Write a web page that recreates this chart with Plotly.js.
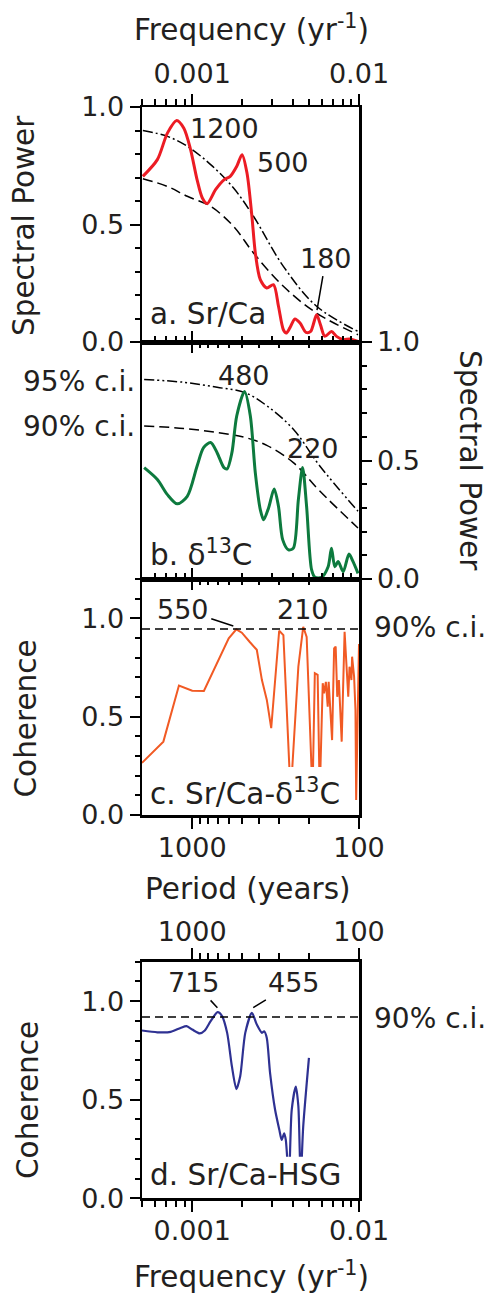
<!DOCTYPE html>
<html><head><meta charset="utf-8">
<script src="https://cdn.plot.ly/plotly-3.0.1.min.js"></script>
<style>html,body{margin:0;padding:0;background:#fff}#chart{width:489px;height:1294px}</style>
</head><body><div id="chart"></div>
<script>
// ---------- DATA ----------
// Panel a: Sr/Ca spectral power vs frequency (yr^-1)
const freqA = [0.000506,0.000618,0.00071,0.000807,0.000891,0.000977,0.00107,0.00115,0.00123,0.00138,0.00155,0.00169,0.00185,0.00199,0.00213,0.00228,0.00239,0.00256,0.0028,0.00307,0.00329,0.00352,0.00366,0.00385,0.00413,0.00443,0.00481,0.00513,0.00557,0.00587,0.00624,0.00684,0.00733,0.00804,0.00879,0.00986];
const powerA = [0.705,0.776,0.889,0.943,0.91,0.82,0.69,0.613,0.589,0.648,0.69,0.705,0.748,0.797,0.719,0.535,0.379,0.265,0.23,0.244,0.152,0.052,0.038,0.06,0.098,0.081,0.041,0.045,0.116,0.074,0.024,0.045,0.024,0.01,0.013,0.003];
const freqCIa = [0.000506,0.00071,0.000934,0.00129,0.00177,0.00233,0.00352,0.00557,0.00986];
const ci95a = [0.9,0.875,0.833,0.755,0.655,0.535,0.322,0.152,0.045];
const ci90a = [0.695,0.662,0.62,0.577,0.492,0.379,0.237,0.123,0.031];

// Panel b: d13C spectral power vs frequency
const freqB = [0.000515,0.000618,0.00071,0.000814,0.000934,0.00107,0.00117,0.00129,0.00141,0.00155,0.00162,0.00173,0.00185,0.00206,0.00223,0.00239,0.00256,0.00268,0.00287,0.0031,0.00329,0.00349,0.00378,0.00404,0.00433,0.00459,0.00485,0.0052,0.00545,0.00596,0.00653,0.00684,0.00716,0.0075,0.00804,0.00871,0.0092,0.00986];
const powerB = [0.47,0.42,0.356,0.317,0.349,0.477,0.554,0.576,0.533,0.47,0.465,0.533,0.689,0.791,0.689,0.448,0.293,0.25,0.30,0.38,0.307,0.165,0.123,0.13,0.335,0.47,0.307,0.038,0.007,0.007,0.052,0.13,0.052,0.074,0.031,0.105,0.074,0.024];
const freqCIb = [0.000515,0.000891,0.00141,0.00208,0.0028,0.00404,0.00582,0.00986];
const ci95b = [0.842,0.83,0.809,0.786,0.731,0.632,0.477,0.286];
const ci90b = [0.646,0.635,0.618,0.597,0.564,0.491,0.371,0.215];

// Panel c: Sr/Ca - d13C coherence vs period (years)
const periodC = [2000,1489,1201,1000,851,709,604,544,504,453,410,382,357,336,315,301,284,257,231,216,206,190,184,177,172,165,162,158,154,152,145,141,138,135,132,127,122,116,114,111,110,107,105,104,100];
const cohC = [0.265,0.373,0.658,0.632,0.631,0.771,0.898,0.944,0.927,0.881,0.84,0.686,0.585,0.442,0.754,0.937,0.915,0.1,0.754,0.957,0.906,0.1,0.721,0.713,0.1,0.67,0.619,0.677,0.551,0.677,0.381,0.847,0.856,0.601,0.686,0.373,0.932,0.601,0.754,0.686,0.805,0.703,0.534,0.076,0.87];
const ci90c = 0.946;

// Panel d: Sr/Ca - HSG coherence vs frequency
const freqD = [0.0005,0.000618,0.000743,0.000851,0.000925,0.001,0.00111,0.00119,0.00129,0.00142,0.00151,0.00162,0.00173,0.00184,0.00194,0.00208,0.00228,0.00244,0.00262,0.0027,0.0028,0.00293,0.00314,0.00333,0.00344,0.00356,0.00364,0.0038,0.00395,0.00418,0.00433,0.00447,0.00463,0.00501];
const cohD = [0.851,0.842,0.844,0.864,0.873,0.856,0.836,0.851,0.898,0.944,0.924,0.839,0.669,0.554,0.619,0.839,0.94,0.881,0.839,0.847,0.813,0.635,0.449,0.347,0.296,0.33,0.296,0.1,0.449,0.567,0.466,0.1,0.364,0.712];
const ci90d = 0.919;

// Peak labels and where their leader lines end
const peaksA = ['1200','500','180'];
const peaksB = ['480','220'];
const peaksC = ['550','210'];
const peaksD = ['715','455'];
const leadA180 = {f: 0.0056, v: 0.136};
const leadC550 = {p: 567, v: 0.961};
const leadD715 = {f: 0.001416, v: 0.967};
const leadD455 = {f: 0.002322, v: 0.967};

// Ticks
const freqMajor = [0.001, 0.01];
const freqMajorText = ['0.001', '0.01'];
const freqMinor = [0.0005,0.0006,0.0007,0.0008,0.0009,0.002,0.003,0.004,0.005,0.006,0.007,0.008,0.009];
const perMajor = [1000, 100];
const perMajorText = ['1000', '100'];
const perMinor = [900,800,700,600,500,400,300,200];
const powMajor = [0, 0.5, 1.0];
const powMajorText = ['0.0', '0.5', '1.0'];
const powMinor = [0.1,0.2,0.3,0.4,0.6,0.7,0.8,0.9];
const cohMinor = [0.1,0.2,0.3,0.4,0.6,0.7,0.8,0.9,1.1,1.2];

// ---------- LAYOUT HELPERS ----------
const W = 489, H = 1294, L = 142, R = 130;
const PW = W - L - R;
const px = x => (x - L) / PW;
const py = y => 1 - y / H;
const TXT = '#231f20';
const FAM = 'DejaVu Sans, Verdana, sans-serif';
const FONT = {family: FAM, size: 29.5, color: TXT};     // words
const NUMFONT = {family: FAM, size: 27, color: TXT};   // numbers
const CIFONT = {family: FAM, size: 28, color: TXT};    // c.i. labels
const LW = 2.5;
const freqRange = [Math.log10(0.0005), -2];
const perRange = [Math.log10(2000), 2];

function xax(kind, opts) {
  const isF = kind === 'f';
  const o = {
    type: 'log', autorange: false, range: isF ? freqRange : perRange,
    showgrid: false, zeroline: false, showline: true, linecolor: '#000', linewidth: LW,
    tickmode: 'array', tickvals: isF ? freqMajor : perMajor, ticktext: isF ? freqMajorText : perMajorText,
    ticklen: 11, tickwidth: 2, tickcolor: '#000', tickfont: NUMFONT,
    minor: {tickmode: 'array', tickvals: isF ? freqMinor : perMinor, ticklen: 6, tickwidth: 2, tickcolor: '#000', showgrid: false},
    fixedrange: true
  };
  Object.assign(o, opts);
  o.minor.ticks = o.ticks;
  return o;
}
function yax(dom, rng, minor, opts) {
  const o = {
    domain: dom, range: rng, autorange: false, showgrid: false, zeroline: false,
    showline: true, mirror: true, linecolor: '#000', linewidth: LW,
    tickmode: 'array', tickvals: powMajor, ticktext: powMajorText, ticks: 'outside',
    ticklen: 10, tickwidth: 2, tickcolor: '#000', tickfont: NUMFONT,
    minor: {tickmode: 'array', tickvals: minor, ticklen: 5, tickwidth: 2, tickcolor: '#000', ticks: 'outside', showgrid: false},
    fixedrange: true
  };
  return Object.assign(o, opts);
}

const domA = [py(342), py(107)];
const domB = [py(579), py(342)];
const domC = [py(815), py(579)];
const domD = [py(1198.3), py(961.7)];

// ---------- TRACES ----------
const blk = '#000';
const traces = [
  {x: freqCIa, y: ci95a, xaxis: 'x', yaxis: 'y', mode: 'lines', line: {color: blk, width: 1.5, dash: '10px,3px,2px,3px', shape: 'spline'}},
  {x: freqCIa, y: ci90a, xaxis: 'x', yaxis: 'y', mode: 'lines', line: {color: blk, width: 1.5, dash: '10px,5px', shape: 'spline'}},
  {x: freqA, y: powerA, xaxis: 'x', yaxis: 'y', mode: 'lines', line: {color: '#ec1c24', width: 3, shape: 'spline', smoothing: 0.8}},

  {x: freqCIb, y: ci95b, xaxis: 'x3', yaxis: 'y2', mode: 'lines', line: {color: blk, width: 1.5, dash: '10px,3px,2px,3px,2px,3px', shape: 'spline'}},
  {x: freqCIb, y: ci90b, xaxis: 'x3', yaxis: 'y2', mode: 'lines', line: {color: blk, width: 1.5, dash: '10px,5px', shape: 'spline'}},
  {x: freqB, y: powerB, xaxis: 'x3', yaxis: 'y2', mode: 'lines', line: {color: '#0d7a3e', width: 3, shape: 'spline', smoothing: 0.8}},

  {x: periodC, y: cohC, xaxis: 'x5', yaxis: 'y3', mode: 'lines', line: {color: '#f15a24', width: 2}},

  {x: freqD, y: cohD, xaxis: 'x7', yaxis: 'y4', mode: 'lines', line: {color: '#2e3192', width: 2.2, shape: 'spline', smoothing: 0.7}},

  // empty traces so that the secondary (top / inner) tick axes are drawn
  {x: [], y: [], xaxis: 'x2', yaxis: 'y', mode: 'lines', hoverinfo: 'skip'},
  {x: [], y: [], xaxis: 'x4', yaxis: 'y2', mode: 'lines', hoverinfo: 'skip'},
  {x: [], y: [], xaxis: 'x6', yaxis: 'y3', mode: 'lines', hoverinfo: 'skip'},
  {x: [], y: [], xaxis: 'x8', yaxis: 'y4', mode: 'lines', hoverinfo: 'skip'}
];

// ---------- ANNOTATIONS ----------
function lab(text, x, y, extra) {
  return Object.assign({text: text, xref: 'paper', yref: 'paper', x: px(x), y: py(y), showarrow: false,
    xanchor: 'center', yanchor: 'middle', font: FONT}, extra || {});
}
function num(text, x, y) { return lab(text, x, y, {font: NUMFONT}); }
function arr(text, xref, yref, xv, yv, ax, ay) {
  // log axes: annotation positions are given in log10 units
  return {text: text, xref: xref, yref: yref, x: Math.log10(xv), y: yv, ax: ax, ay: ay, showarrow: true,
    arrowhead: 0, arrowwidth: 1.5, arrowcolor: '#000', font: NUMFONT, standoff: 0, startstandoff: 1};
}

const annotations = [
  lab('Frequency (yr<sup>-1</sup>)', 251, 28),
  lab('Spectral Power', 24, 226, {textangle: -90}),
  num(peaksA[0], 224, 128),
  num(peaksA[1], 282.5, 163),
  arr(peaksA[2], 'x', 'y', leadA180.f, leadA180.v, 9, -52),
  lab('a. Sr/Ca', 148, 314, {xanchor: 'left'}),

  lab('95% c.i.', 137, 381, {xanchor: 'right', font: CIFONT}),
  lab('90% c.i.', 137, 426, {xanchor: 'right', font: CIFONT}),
  num(peaksB[0], 243.5, 375),
  num(peaksB[1], 312.5, 448),
  lab('b. δ<sup>13</sup>C', 148, 553, {xanchor: 'left'}),
  lab('Spectral Power', 489, 460, {textangle: 90, xanchor: 'right'}),

  arr(peaksC[0], 'x5', 'y3', leadC550.p, leadC550.v, -50.5, -16.5),
  num(peaksC[1], 302.5, 609.5),
  lab('90% c.i.', 372, 628, {xanchor: 'left', font: CIFONT}),
  lab('c. Sr/Ca-δ<sup>13</sup>C', 148, 792, {xanchor: 'left'}),
  lab('Coherence', 25, 718.5, {textangle: -90}),
  lab('Period (years)', 248, 889),

  arr(peaksD[0], 'x7', 'y4', leadD715.f, leadD715.v, -23.5, -25),
  arr(peaksD[1], 'x7', 'y4', leadD455.f, leadD455.v, 41, -25),
  lab('90% c.i.', 372, 1018, {xanchor: 'left', font: CIFONT}),
  lab('d. Sr/Ca-HSG', 148, 1175, {xanchor: 'left'}),
  lab('Coherence', 28, 1100, {textangle: -90}),
  lab('Frequency (yr<sup>-1</sup>)', 251, 1275)
];

// ---------- SHAPES ----------
const shapes = [
  {type: 'line', xref: 'x5 domain', yref: 'y3', x0: 0, x1: 1, y0: ci90c, y1: ci90c, line: {color: '#000', width: 1.5, dash: '8px,5px'}},
  {type: 'line', xref: 'x7 domain', yref: 'y4', x0: 0, x1: 1, y0: ci90d, y1: ci90d, line: {color: '#000', width: 1.5, dash: '8px,5px'}},
  // white boxes behind panel labels (they hide the curves beneath, as in the figure)
  {type: 'rect', xref: 'paper', yref: 'paper', x0: px(144), x1: px(352), y0: py(813.5), y1: py(767), fillcolor: '#fff', line: {width: 0}, layer: 'above'},
  {type: 'rect', xref: 'paper', yref: 'paper', x0: px(144), x1: px(352), y0: py(1197), y1: py(1156.7), fillcolor: '#fff', line: {width: 0}, layer: 'above'}
];

const layout = {
  width: W, height: H,
  margin: {l: L, r: R, t: 0, b: 0, pad: 0},
  paper_bgcolor: '#fff', plot_bgcolor: 'rgba(0,0,0,0)',
  showlegend: false,
  font: FONT,
  // panel a
  xaxis: xax('f', {anchor: 'y', side: 'bottom', ticks: 'inside', showticklabels: false}),
  xaxis2: xax('f', {anchor: 'y', overlaying: 'x', side: 'top', ticks: 'outside', showticklabels: true}),
  yaxis: yax(domA, [0, 1], powMinor, {anchor: 'x', side: 'left'}),
  // panel b
  xaxis3: xax('f', {anchor: 'y2', side: 'bottom', ticks: 'inside', showticklabels: false}),
  xaxis4: xax('p', {anchor: 'y2', overlaying: 'x3', side: 'top', ticks: 'inside', showticklabels: false}),
  yaxis2: yax(domB, [0, 1], powMinor, {anchor: 'x3', side: 'right'}),
  // panel c
  xaxis5: xax('p', {anchor: 'y3', side: 'bottom', ticks: 'outside', showticklabels: true, ticklabelstandoff: -4}),
  xaxis6: xax('p', {anchor: 'y3', overlaying: 'x5', side: 'top', ticks: 'inside', showticklabels: false}),
  yaxis3: yax(domC, [0, 1.2], cohMinor, {anchor: 'x5', side: 'left'}),
  // panel d
  xaxis7: xax('f', {anchor: 'y4', side: 'bottom', ticks: 'outside', showticklabels: true, ticklabelstandoff: -4}),
  xaxis8: xax('p', {anchor: 'y4', overlaying: 'x7', side: 'top', ticks: 'outside', showticklabels: true, ticklabelstandoff: -4}),
  yaxis4: yax(domD, [0, 1.2], cohMinor, {anchor: 'x7', side: 'left'}),
  annotations: annotations,
  shapes: shapes
};

Plotly.newPlot('chart', traces, layout, {staticPlot: true, displayModeBar: false});
</script>
</body></html>
